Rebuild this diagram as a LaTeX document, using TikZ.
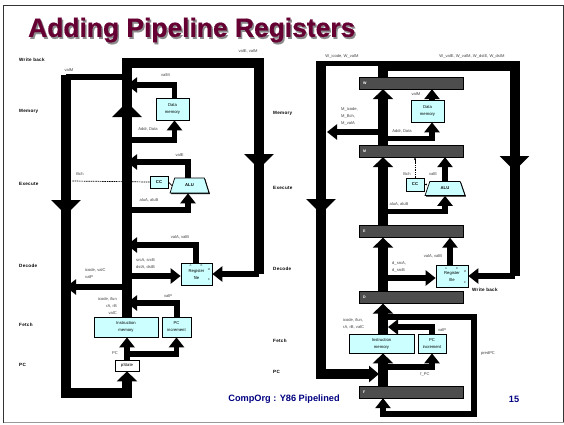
\documentclass[tikz,border=0pt]{standalone}
\usepackage{fontspec}
\setmainfont{Liberation Sans}
\usepackage{xcolor}
\usetikzlibrary{
  arrows.meta,
  shapes.geometric,
  shadows
}
\definecolor{titlered}{HTML}{660033}
\definecolor{footblue}{HTML}{000080}
\definecolor{unitcyan}{HTML}{CCFFFF}
\definecolor{pipegray}{HTML}{4D4D4D}
\newfontfamily\stagefont[LetterSpace=6]{Liberation Sans}
\newfontfamily\titlefont[BoldFeatures={FakeBold=0.6}]{Liberation Sans}

\begin{document}
\begin{tikzpicture}[
  x=1pt, y=-1pt,
  bus/.style={draw, line width=10pt},
  bushead/.style={bus, -{Triangle[length=15pt,width=29pt]}},
  busin/.style={bus, -{Triangle[length=10pt,width=20pt]}},
  tap/.style={draw, line width=5.5pt},
  tapin/.style={tap, -{Triangle[length=10pt,width=15pt]}},
  unit/.style={rectangle, draw=black, line width=0.7pt, fill=unitcyan, inner sep=0pt, align=center,
    font=\fontsize{4.2}{7}\selectfont, drop shadow={shadow xshift=1pt, shadow yshift=-1pt, fill=black, opacity=1}},
  preg/.style={rectangle, fill=pipegray, draw=black, line width=0.3pt, minimum height=12pt, text width=96pt,
    inner xsep=4pt, inner ysep=0pt, text=white, font=\fontsize{3.6}{4}\selectfont\bfseries},
  lab/.style={inner sep=0pt, text=black!75, font=\fontsize{4.1}{7}\selectfont},
  stage/.style={inner sep=0pt, anchor=west, font=\fontsize{4.6}{5}\stagefont\bfseries},
  headline/.style={inner sep=0pt, anchor=west, font=\fontsize{26.4}{28}\titlefont\bfseries},
]
\useasboundingbox (0,0) rectangle (564,424);
\draw[black!80, line width=1.2pt] (3.5,423) -- (3.5,5.5) -- (563.5,5.5) -- (563.5,423);
\draw[black!40, line width=0.8pt] (3.5,422.7) -- (563.5,422.7);

% title
\node[headline, text=black!45] (titleshade) at (29.5,32) {Adding Pipeline Registers};
\node[headline, text=titlered] (title) at (28,30) {Adding Pipeline Registers};

% stages
\node[stage] (s1) at (19,60) {Write back};
\node[stage] (s2) at (19,111) {Memory};
\node[stage] (s3) at (19,184) {Execute};
\node[stage] (s4) at (19,266) {Decode};
\node[stage] (s5) at (19,325) {Fetch};
\node[stage] (s6) at (19,365) {PC};
\node[stage] (s7) at (273,113) {Memory};
\node[stage] (s8) at (273,188) {Execute};
\node[stage] (s9) at (273,269) {Decode};
\node[stage] (s10) at (273,341) {Fetch};
\node[stage] (s11) at (273,372) {PC};
\node[stage] (s12) at (472,290) {Write back};

% left picture, units
\node[unit, minimum width=33pt, minimum height=22pt] (dmem) at (172.5,109) {Data\\memory};
\node[unit, minimum width=18pt, minimum height=12pt, font=\fontsize{4.2}{5}\selectfont\bfseries] (cc) at (159,182) {CC};
\node[unit, trapezium, trapezium left angle=65, trapezium right angle=65, trapezium stretches=true,
  minimum width=39pt, minimum height=15pt, font=\fontsize{4.2}{5}\selectfont\bfseries] (alu) at (189.5,185.5) {ALU};
\node[unit, minimum width=31pt, minimum height=22pt] (rf) at (196.5,274) {Register\\file};
\node[unit, minimum width=64pt, minimum height=20pt] (imem) at (126,327) {Instruction\\memory};
\node[unit, minimum width=29pt, minimum height=20pt] (pcinc) at (176.5,327) {PC\\increment};
\node[unit, fill=white, minimum width=24pt, minimum height=11pt] (pstate) at (127,365.5) {pState};

% left picture, free ends
\coordinate (ltop) at (127,63);
\coordinate (ltopr) at (259,63);
\coordinate (ldown) at (259,169);
\coordinate (lup) at (127,102);
\coordinate (lval) at (66,77);
\coordinate (lfall) at (66,215);
\coordinate (lbot) at (66,392.5);
\coordinate (lret) at (127,392.5);
\coordinate (lvalm) at (174.5,85);
\coordinate (laddr) at (174.5,140);
\coordinate (lvale) at (188,162);
\coordinate (lalu) at (188,210);
\coordinate (lvala) at (196,245);
\coordinate (lreg) at (127,276);
\coordinate (licode) at (127,287);
\coordinate (lvalp) at (177,303);
\coordinate (lpc) at (127,354);
\coordinate (lbch) at (72,181);

% left picture, buses
\draw[bus] (imem.north -| ltop) -- (ltop) -- (ltopr) -- (ltopr |- rf.east);
\draw[bushead] (imem.north -| ltop) -- (lup);
\draw[bushead] (ltopr) -- (ldown);
\draw[bus] (lval) ++(0,-2.5) -- (lbot) -- (lret);
\draw[bushead] (lval) -- (lfall);
\draw[tap] (ltop |- lval) -- (lval);
\draw[busin] (lret) ++(0,5) -- (pstate.south);
\draw[tapin] (ltopr |- rf.east) -- (rf.east);

% left picture, taps
\draw[tapin] (dmem.north -| lvalm) -- (lvalm) -- (lvalm -| ltop);
\draw[tapin] (ltop |- laddr) -- (laddr) -- (dmem.south -| laddr);
\draw[tapin] (alu.north -| lvale) -- (lvale) -- (lvale -| ltop);
\draw[tapin] (ltop |- lalu) -- (lalu) -- (alu.south -| lalu);
\draw[tapin] (rf.north -| lvala) -- (lvala) -- (lvala -| ltop);
\draw[tapin] (lreg) -- (rf.west |- lreg);
\draw[tapin] (licode) -- (licode -| lval);
\draw[tapin] (pcinc.north -| lvalp) -- (lvalp) -- (lvalp -| ltop);
\draw[tapin] (pstate.north) -- (imem.south -| pstate);
\draw[tapin] (lpc) -- (lpc -| pcinc) -- (pcinc.south);
\draw[line width=0.7pt, dash pattern=on 1.5pt off 0.8pt] (cc.west) -- (lbch);
\draw[line width=0.7pt] (alu.west) -- (cc.east);

% left picture, labels
\node[lab] (t1) at (248,51.5) {valE, valM};
\node[lab] (t2) at (69,70.5) {valM};
\node[lab] (t3) at (165.5,75.5) {valM};
\node[lab] (t4) at (148,129.5) {Addr, Data};
\node[lab] (t5) at (179.5,155) {valE};
\node[lab] (t6) at (80,174) {Bch};
\node[lab] (t7) at (149,200.5) {aluA, aluB};
\node[lab] (t8) at (180,237.5) {valA, valB};
\node[lab, align=left, anchor=north west] (t9) at (136,258.5) {srcA, srcB\\dstA, dstB};
\node[lab, align=left, anchor=north west] (t10) at (85,268) {icode, valC\\valP};
\node[lab, align=right, anchor=north east] (t11) at (117,297) {icode, ifun\\rA, rB\\valC};
\node[lab] (t12) at (168,296.5) {valP};
\node[lab] (t13) at (115,353.5) {PC};
\node[lab, font=\fontsize{2.8}{3}\selectfont] (t14) at (190.5,266) {A};
\node[lab, font=\fontsize{2.8}{3}\selectfont] (t15) at (201.5,266) {B};
\node[lab, font=\fontsize{2.8}{3}\selectfont] (t16) at (209,270) {M};
\node[lab, font=\fontsize{2.8}{3}\selectfont] (t17) at (209,280) {E};

% right picture, pipeline registers
\node[preg] (regW) at (411,83) {W};
\node[preg] (regM) at (411,151) {M};
\node[preg] (regE) at (411,231.5) {E};
\node[preg] (regD) at (411,297.5) {D};
\node[preg] (regF) at (411,392) {F};

% right picture, units
\node[unit, minimum width=33pt, minimum height=22pt] (rdmem) at (427.5,111) {Data\\memory};
\node[unit, minimum width=18pt, minimum height=13pt, font=\fontsize{4.2}{5}\selectfont\bfseries] (rcc) at (415,184.5) {CC};
\node[unit, trapezium, trapezium left angle=65, trapezium right angle=65, trapezium stretches=true,
  minimum width=40pt, minimum height=14pt, font=\fontsize{4.2}{5}\selectfont\bfseries] (ralu) at (445,188.5) {ALU};
\node[unit, minimum width=32pt, minimum height=22pt] (rrf) at (452,276) {Register\\file};
\node[unit, minimum width=65pt, minimum height=19pt] (rimem) at (381.5,343.5) {Instruction\\memory};
\node[unit, minimum width=28pt, minimum height=19pt] (rpcinc) at (432,343.5) {PC\\increment};

% right picture, free ends
\coordinate (rmain) at (383,66);
\coordinate (rtopr) at (514.5,66);
\coordinate (rdown) at (514.5,171);
\coordinate (rthin) at (383,63.5);
\coordinate (rcol) at (321,61);
\coordinate (rthinl) at (321,63.5);
\coordinate (rfall) at (321,214);
\coordinate (rbot) at (321,374);
\coordinate (rjoin) at (379,374);
\coordinate (rmicode) at (383,132);
\coordinate (rmout) at (327,132);
\coordinate (raddr) at (432,138.5);
\coordinate (ralua) at (445,211.5);
\coordinate (rvala) at (450,200);
\coordinate (rreg) at (383,278);
\coordinate (rpred) at (383,317);
\coordinate (rpredr) at (474,317);
\coordinate (rpredb) at (474,414);
\coordinate (rpredl) at (383,414);
\coordinate (rvalp) at (432,327);
\coordinate (rtap) at (388,327);
\coordinate (rfpc) at (432,367);

% right picture, buses
\draw[bus] (regW.north -| rmain) -- (rmain) -- (rtopr) -- (rtopr |- rrf.east);
\draw[bushead] (rtopr) -- (rdown);
\draw[tap] (rthin) -- (rthinl);
\draw[bus] (rcol) -- (rbot);
\draw[bushead] (rcol) -- (rfall);
\draw[bus, -{Triangle[length=10pt,width=16pt]}] (rcol) -- (rbot) -- (rjoin);
\draw[tapin] (rtopr |- rrf.east) -- (rrf.east);
\draw[busin] (regM.north -| rmain) -- (regW.south -| rmain);
\draw[busin] (regE.north -| rmain) -- (regM.south -| rmain);
\draw[busin] (regD.north -| rmain) -- (regE.south -| rmain);
\draw[busin] (rimem.north -| rmain) -- (regD.south -| rmain);
\draw[busin] (regF.north -| rmain) -- (rimem.south -| rmain);

% right picture, taps
\draw[tapin] (rdmem.north -| raddr) -- (regW.south -| raddr);
\draw[tapin] (rmicode) -- (rmout);
\draw[tapin] (rmain |- raddr) -- (raddr) -- (rdmem.south -| raddr);
\draw[tapin] (ralu.north -| ralua) -- (regM.south -| ralua);
\draw[tapin] (rmain |- ralua) -- (ralua) -- (ralu.south -| ralua);
\draw[tapin] (rrf.north -| rvala) -- (regE.south -| rvala);
\draw[tapin] (rreg) -- (rrf.west |- rreg);
\draw[tap] (rpred) -- (rpredr) -- (rpredb) -- (rpredl);
\draw[tapin] (rpredb) -- (rpredl) -- (regF.south -| rpredl);
\draw[tapin] (rpcinc.north -| rvalp) -- (rvalp) -- (rtap);
\draw[tapin] (rmain |- rfpc) -- (rfpc) -- (rpcinc.south -| rfpc);
\draw[line width=0.7pt, -{Stealth[length=2.5pt]}] (ralu.west |- rcc.east) -- (rcc.east);
\draw[line width=0.7pt, dash pattern=on 1.5pt off 0.8pt, -{Stealth[length=3pt]}] (rcc.north) -- (regM.south -| rcc);

% right picture, labels
\node[lab] (u1) at (342,56.5) {W\_icode, W\_valM};
\node[lab] (u2) at (472,56.5) {W\_valE, W\_valM, W\_dstE, W\_dstM};
\node[lab] (u3) at (416,94) {valM};
\node[lab, align=left, anchor=north west] (u4) at (341,107.5) {M\_icode,\\M\_Bch,\\M\_valA};
\node[lab] (u5) at (402,131) {Addr, Data};
\node[lab] (u6) at (407,174) {Bch};
\node[lab] (u7) at (433,174) {valE};
\node[lab] (u8) at (399,204.5) {aluA, aluB};
\node[lab] (u9) at (433,256.5) {valA, valB};
\node[lab, align=left, anchor=north west] (u10) at (392,261) {d\_srcA,\\d\_srcB};
\node[lab, align=left, anchor=north west] (u11) at (343,318) {icode, ifun,\\rA, rB, valC};
\node[lab] (u12) at (442,330) {valP};
\node[lab] (u13) at (425,374) {f\_PC};
\node[lab] (u14) at (488,353.5) {predPC};
\node[lab, font=\fontsize{2.8}{3}\selectfont] (u15) at (446,269) {A};
\node[lab, font=\fontsize{2.8}{3}\selectfont] (u16) at (457,269) {B};
\node[lab, font=\fontsize{2.8}{3}\selectfont] (u17) at (465,272) {M};
\node[lab, font=\fontsize{2.8}{3}\selectfont] (u18) at (465,283) {E};

% footer
\node[inner sep=0pt, text=footblue, font=\fontsize{9.2}{10}\selectfont\bfseries] (foot) at (284,399) {CompOrg : Y86 Pipelined};
\node[inner sep=0pt, text=footblue, font=\fontsize{9.2}{10}\selectfont\bfseries] (page) at (514,399) {15};
\end{tikzpicture}
\end{document}
